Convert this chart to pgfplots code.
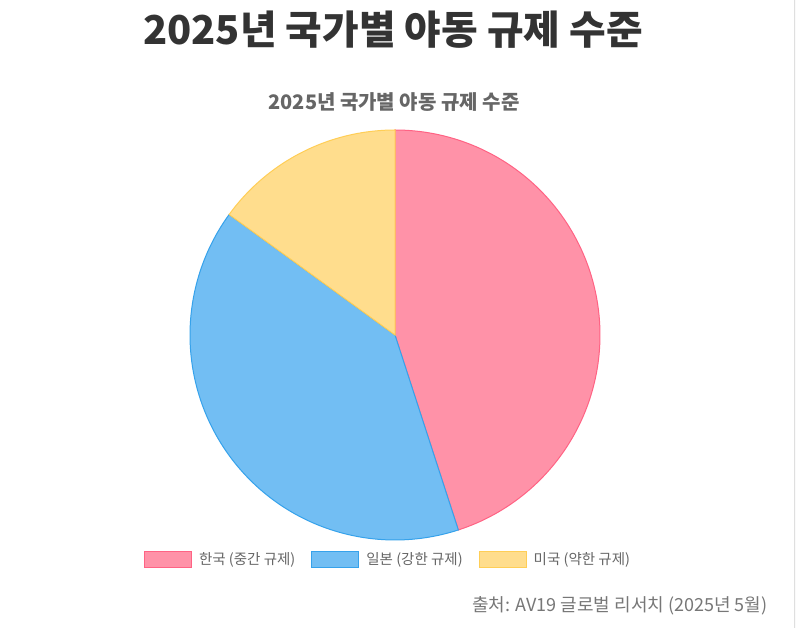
\documentclass[border=0pt]{standalone}
\usepackage{pgfplots}
\pgfplotsset{compat=1.18}
\usepackage{fontspec}
\newfontfamily\kr{Noto Sans CJK KR}
\setmainfont{Noto Sans CJK KR}
\definecolor{pinkfill}{RGB}{255,146,168}
\definecolor{pinkline}{RGB}{255,99,132}
\definecolor{bluefill}{RGB}{114,190,243}
\definecolor{blueline}{RGB}{54,162,235}
\definecolor{yelfill}{RGB}{255,221,141}
\definecolor{yelline}{RGB}{255,206,86}
\definecolor{titlec}{RGB}{51,51,51}
\definecolor{subc}{RGB}{102,102,102}
\definecolor{srcc}{RGB}{119,119,119}
% values (%)
\def\valA{45}
\def\valB{40}
\def\valC{15}
\begin{document}
\begin{tikzpicture}[x=1pt,y=1pt]
\useasboundingbox (0,0) rectangle (796,628);
\fill[white] (0,0) rectangle (796,628);
\fill[gray!4] (794,0) rectangle (796,628);
\draw[gray!25, line width=0.8pt] (794,0) -- (794,628);
\node[font=\kr\bfseries\fontsize{39.8}{43}\selectfont, text=titlec] at (393,598) {2025년 국가별 야동 규제 수준};
\node[font=\kr\bfseries\fontsize{20}{22}\selectfont, text=subc] at (394,526) {2025년 국가별 야동 규제 수준};
\node[font=\kr\fontsize{18}{20}\selectfont, text=srcc, anchor=east] at (771,22) {출처: AV19 글로벌 리서치 (2025년 5월)};
\pgfmathsetmacro{\aA}{90}
\pgfmathsetmacro{\aB}{90-3.6*\valA}
\pgfmathsetmacro{\aC}{\aB-3.6*\valB}
\pgfmathsetmacro{\aD}{\aC-3.6*\valC}
\begin{axis}[
  at={(395pt,293pt)}, anchor=center,
  scale only axis, width=410pt, height=410pt,
  xmin=-1, xmax=1, ymin=-1, ymax=1,
  hide axis, clip=false,
  legend columns=3,
  legend style={at={(0.483,-0.02)}, anchor=north, draw=none, fill=none,
    font=\kr\fontsize{14.5}{16}\selectfont, text=subc,
    /tikz/every even column/.append style={column sep=14pt}},
  legend image code/.code={\draw[#1, line width=1pt] (0pt,-8pt) rectangle (47pt,8pt);\path (52pt,0pt);},
  legend cell align=left,
]
\addplot[fill=pinkfill, draw=pinkline, line width=1pt, domain=\aA:\aB, samples=120, variable=\t] ({cos(\t)},{sin(\t)}) -- (0,0) -- cycle;
\addplot[fill=bluefill, draw=blueline, line width=1pt, domain=\aB:\aC, samples=120, variable=\t] ({cos(\t)},{sin(\t)}) -- (0,0) -- cycle;
\addplot[fill=yelfill, draw=yelline, line width=1pt, domain=\aC:\aD, samples=60, variable=\t] ({cos(\t)},{sin(\t)}) -- (0,0) -- cycle;
\legend{한국 (중간 규제), 일본 (강한 규제), 미국 (약한 규제)}
\end{axis}
\end{tikzpicture}
\end{document}
